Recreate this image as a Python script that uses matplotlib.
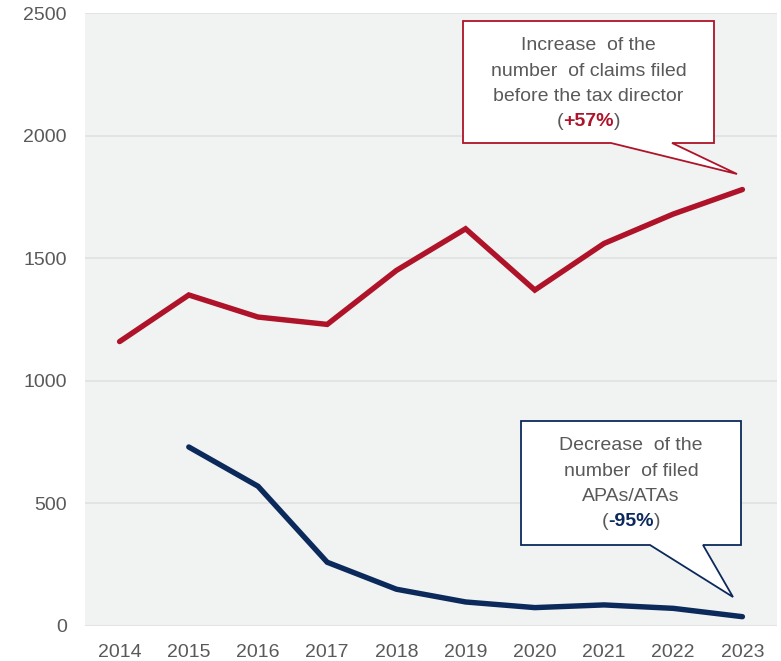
import matplotlib
matplotlib.use("Agg")
import matplotlib.pyplot as plt
from matplotlib.patches import Polygon

years = [2014, 2015, 2016, 2017, 2018, 2019, 2020, 2021, 2022, 2023]
claims = [1160, 1350, 1260, 1230, 1450, 1620, 1370, 1560, 1680, 1780]
apa_years = [2015, 2016, 2017, 2018, 2019, 2020, 2021, 2022, 2023]
apas = [730, 570, 260, 150, 98, 75, 86, 72, 38]
yticks = [0, 500, 1000, 1500, 2000, 2500]

RED = "#ae1329"
NAVY = "#0b2a5b"
GREY = "#595959"
FS = 14

plt.rcParams['font.family'] = ['Liberation Sans', 'DejaVu Sans']

W, H = 781, 661
fig = plt.figure(figsize=(W / 100, H / 100), dpi=100)
# axes box in pixels: left 85, right 777, top 13, bottom 626
ax = fig.add_axes([85 / W, 1 - 626 / H, 692 / W, 613 / H])
ax.set_facecolor("#f1f3f3")
ax.set_xlim(2013.5, 2023.5)
ax.set_ylim(0, 2500)
ax.set_yticks(yticks)
ax.set_xticks(years)
ax.grid(axis='y', color="#e0e2e2", lw=1.2)
ax.set_axisbelow(True)
for s in ax.spines.values():
    s.set_visible(False)
ax.tick_params(length=0, labelsize=FS, colors=GREY)
ax.tick_params(axis='x', pad=13)
ax.tick_params(axis='y', pad=13)

ax.plot(years, claims, color=RED, lw=3.9, solid_joinstyle='miter',
        solid_capstyle='round')
ax.plot(apa_years, apas, color=NAVY, lw=3.9, solid_joinstyle='miter',
        solid_capstyle='round')


def px(x, y):
    # figure pixels -> axes fraction
    return ((x - 85) / 692, (626 - y) / 613)


def callout(box, tail, edge, lines, pct):
    x0, y0, x1, y1 = box
    b1, b2, tip = tail
    pts = [(x0, y0), (x1, y0), (x1, y1), (b2, y1), tip, (b1, y1), (x0, y1)]
    poly = Polygon([px(*p) for p in pts], closed=True, transform=ax.transAxes,
                   facecolor='white', edgecolor=edge, lw=1.3, zorder=5,
                   clip_on=False)
    ax.add_patch(poly)
    cx = (x0 + x1) / 2
    for i, ln in enumerate(lines):
        ax.text(*px(cx, y0 + 25 + 25.3 * i), ln, transform=ax.transAxes,
                ha='center', va='center', fontsize=FS, color=GREY, zorder=6)
    n = len(lines)
    t = ax.text(*px(cx, y0 + 25 + 25.3 * n), pct, transform=ax.transAxes,
                ha='center', va='center', fontsize=FS, color=edge,
                fontweight='bold', zorder=6)
    ax.annotate("(", xy=(0, 0.5), xycoords=t, ha='right', va='center',
                fontsize=FS, color=GREY, zorder=6)
    ax.annotate(")", xy=(1, 0.5), xycoords=t, ha='left', va='center',
                fontsize=FS, color=GREY, zorder=6)


callout((463, 21, 714, 143), (611, 672, (737, 174)), RED,
        ["Increase  of the", "number  of claims filed", "before the tax director"],
        "+57%")
callout((521, 421, 741, 545), (650, 703, (733, 597)), NAVY,
        ["Decrease  of the", "number  of filed", "APAs/ATAs"],
        "-95%")

fig.savefig("out.png", dpi=100)
